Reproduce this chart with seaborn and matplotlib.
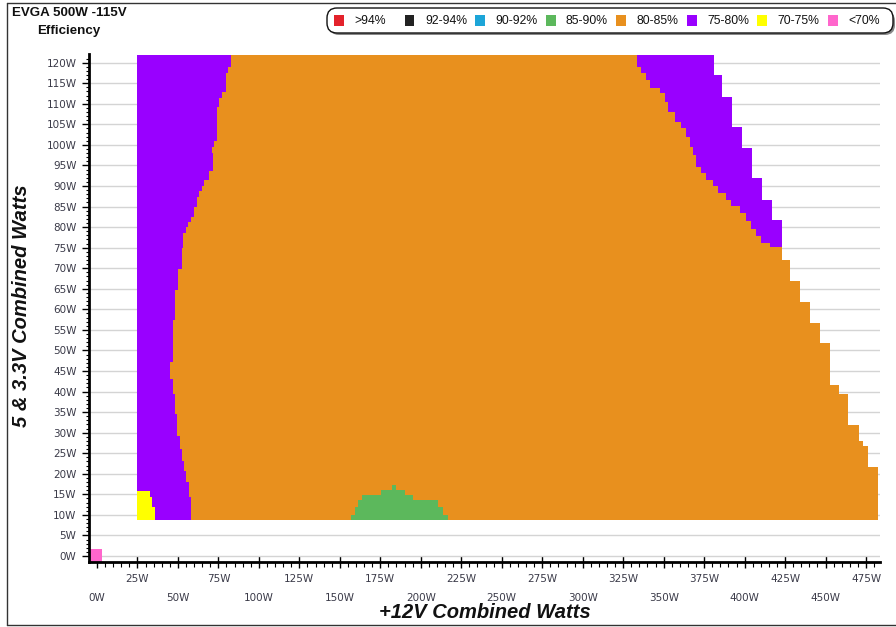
import numpy as np
import matplotlib
matplotlib.use("Agg")
import matplotlib.pyplot as plt
from matplotlib.patches import FancyBboxPatch, Rectangle
import seaborn as sns

# efficiency classes (legend order) and colours
classes = [">94%", "92-94%", "90-92%", "85-90%", "80-85%", "75-80%", "70-75%", "<70%"]
colors = ["#e3222b", "#222222", "#1ca5d8", "#5cb85c", "#e8901e", "#9900ff", "#ffff00", "#ff66cc"]

# 12V load where the measured area starts
start_12v = 25.0

# left border of the 80-85% area (75-80% to its left), rows bottom -> top
left_edges = [8.75, 14.3, 17.9, 20.6, 23.0, 26.0, 29.1, 34.5, 39.3, 43.0, 47.3,
              57.5, 64.8, 69.7, 75.0, 78.6, 80.0, 81.3, 82.5, 85.0, 87.4,
              88.7, 89.9, 91.5, 93.6, 98.0, 99.5, 101.0, 109.1, 111.3, 112.9,
              117.4, 119.0, 121.9]
left_x = [58.4, 57.0, 55.3, 53.7, 52.3, 51.2, 49.6, 48.5, 47.1, 45.4,
          46.7, 48.5, 50.2, 52.3, 53.3, 54.9, 56.4, 57.8, 59.9, 61.5,
          63.0, 64.6, 66.0, 69.2, 71.7, 70.8, 72.3, 73.9, 75.3, 77.5,
          79.6, 81.0, 82.7]

# right border of the 80-85% area
right_edges = [8.75, 21.6, 26.7, 27.9, 31.8, 39.3, 41.7, 51.9, 56.7, 61.8,
               66.8, 72.0, 75.2, 76.2, 77.8, 79.5, 81.5, 83.5, 85.1, 86.7,
               88.3, 89.9, 91.5, 93.1, 94.7, 97.6, 99.6, 102.0, 104.0, 105.6,
               108.1, 110.5, 112.6, 113.8, 115.8, 117.4, 119.0, 121.9]
right_x = [482.3, 476.1, 473.0, 470.6, 463.8, 458.0, 452.5, 446.3, 440.5, 434.4,
           428.2, 422.8, 415.4, 410.3, 407.2, 404.1, 401.0, 396.9, 391.8, 388.7,
           383.5, 380.4, 376.4, 373.3, 370.2, 368.1, 366.0, 363.6, 360.9, 356.8,
           352.7, 350.6, 347.5, 341.4, 339.3, 336.2, 333.5]

# outer border of the upper right 75-80% area
purple_edges = [75.2, 81.7, 86.6, 91.9, 99.2, 104.4, 111.7, 117.0, 121.9]
purple_x = [422.8, 416.9, 410.7, 404.5, 398.4, 392.2, 386.2, 380.9]

# 70-75% corner
yellow_edges = [8.75, 11.9, 14.3, 15.7]
yellow_x = [36.0, 34.3, 33.0]

# 85-90% island
green_edges = [8.75, 10.0, 12.0, 13.6, 14.8, 16.1, 17.3]
green_left = [157.2, 159.3, 161.3, 163.4, 175.7, 182.5]
green_right = [216.9, 213.8, 210.7, 195.3, 190.1, 185.0]

# <70% cell at no load
pink_x = [-5.0, 3.1]
pink_y = [-1.5, 1.65]

xticks = np.arange(0, 476, 25)
yticks = np.arange(0, 121, 5)

sns.set_style("white")
plt.rcParams["font.family"] = ["DejaVu Sans"]

fig = plt.figure(figsize=(8.96, 6.27), dpi=100)
W, H = 896, 627
ax = fig.add_axes([89 / W, 1 - 562 / H, (880 - 89) / W, (562 - 54) / H])


def band(edges, right, left, color):
    y = np.asarray(edges, dtype=float)
    x2 = np.append(right, right[-1])
    if np.ndim(left):
        x1 = np.append(left, left[-1])
    else:
        x1 = np.full_like(y, left)
    ax.fill_betweenx(y, x1, x2, step="post", color=color, lw=0, zorder=2)


band(purple_edges, purple_x, start_12v, colors[5])
band(right_edges, right_x, start_12v, colors[4])
band(left_edges, left_x, start_12v, colors[5])
band(yellow_edges, yellow_x, start_12v, colors[6])
band(green_edges, green_right, green_left, colors[3])
ax.fill_between(pink_x, pink_y[0], pink_y[1], color=colors[7], lw=0, zorder=2)

ax.set_xlim(-4.9, 483.6)
ax.set_ylim(-1.46, 122.1)

ax.yaxis.grid(True, color="#d4d4d4", lw=1)
ax.xaxis.grid(False)
ax.set_axisbelow(True)

for s in ["top", "right"]:
    ax.spines[s].set_visible(False)
for s in ["left", "bottom"]:
    ax.spines[s].set_linewidth(2)
    ax.spines[s].set_color("black")

tick_color = "#3a3a48"
ax.set_yticks(yticks)
ax.set_yticklabels([f"{v}W" for v in yticks], fontsize=7.5, color=tick_color)
ax.set_yticks(np.arange(0, 122, 1), minor=True)
ax.set_xticks(xticks)
ax.set_xticklabels([("\n" if i % 2 == 0 else "") + f"{v}W" for i, v in enumerate(xticks)],
                   fontsize=7.5, color=tick_color)
ax.set_xticks(np.arange(0, 481, 5), minor=True)
for lab in ax.get_xticklabels():
    lab.set_linespacing(2.1)

ax.tick_params(axis="y", which="major", direction="out", length=5, width=1, color="black", pad=4, left=True)
ax.tick_params(axis="y", which="minor", direction="out", length=2.5, width=0.8, color="black", left=True)
ax.tick_params(axis="x", which="major", direction="inout", length=9, width=1, color="black", pad=4, bottom=True)
ax.tick_params(axis="x", which="minor", direction="out", length=3.5, width=0.8, color="black", bottom=True)

lab_font = dict(family="Liberation Sans", weight="bold", style="italic", size=14.5, color="#111111")
fig.text(485 / W, 1 - 613 / H, "+12V Combined Watts", ha="center", va="center", **lab_font)
fig.text(22 / W, 1 - 306 / H, "5 & 3.3V Combined Watts", ha="center", va="center", rotation=90, **lab_font)

title_font = dict(family="Liberation Sans", weight="bold", size=9.6, color="#111111")
fig.text(12 / W, 1 - 13 / H, "EVGA 500W -115V", ha="left", va="center", **title_font)
fig.text(37 / W, 1 - 31 / H, "Efficiency", ha="left", va="center", **title_font)

# legend box (drawn in inches so the rounding stays round)
tr = fig.dpi_scale_trans
shadow = FancyBboxPatch((329 / 100, (H - 35) / 100), 5.66, 0.24,
                        boxstyle="round,pad=0,rounding_size=0.1",
                        fc="#888888", ec="none", transform=tr, zorder=1)
box = FancyBboxPatch((327 / 100, (H - 33) / 100), 5.66, 0.25,
                     boxstyle="round,pad=0,rounding_size=0.1",
                     fc="white", ec="#111111", lw=1, transform=tr, zorder=2)
fig.patches.extend([shadow, box])
for i, (name, c) in enumerate(zip(classes, colors)):
    x0 = 334 + i * 70.5
    fig.patches.append(Rectangle((x0 / 100, (H - 26) / 100), 0.10, 0.105, fc=c, ec="none",
                                 transform=tr, zorder=3))
    fig.text((x0 + 20.5) / 100, (H - 20.5) / 100, name, transform=tr, ha="left", va="center",
             family="Liberation Sans", size=8.8, color="#111111", zorder=4)

# outer frame of the image
frame_kw = dict(color="#333333", lw=1, transform=tr)
fig.add_artist(plt.Line2D([0.07, 0.07], [(H - 3) / 100, (H - 625) / 100], **frame_kw))
fig.add_artist(plt.Line2D([0.07, 9.0], [(H - 3) / 100, (H - 3) / 100], **frame_kw))
fig.add_artist(plt.Line2D([0.07, 9.0], [(H - 625) / 100, (H - 625) / 100], **frame_kw))

fig.savefig("out.png", dpi=100)
